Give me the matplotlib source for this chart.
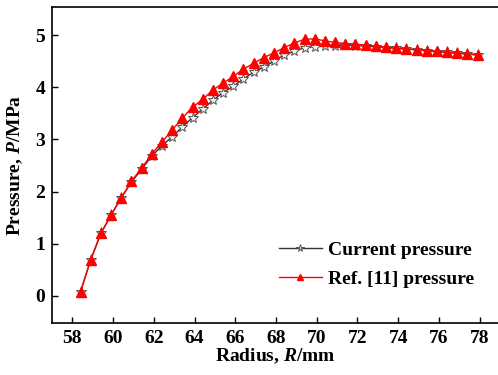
import matplotlib
matplotlib.use("Agg")
import matplotlib.pyplot as plt
import numpy as np

plt.rcParams['font.family'] = ['Liberation Serif', 'DejaVu Serif']
plt.rcParams['font.weight'] = 'bold'
plt.rcParams['mathtext.fontset'] = 'custom'
plt.rcParams['mathtext.it'] = 'Liberation Serif:italic:bold'
plt.rcParams['mathtext.rm'] = 'Liberation Serif:bold'

radius = np.round(58.4 + 0.5 * np.arange(40), 2)
current = [0.08, 0.69, 1.20, 1.55, 1.88, 2.18, 2.43, 2.68, 2.88, 3.05,
           3.24, 3.42, 3.58, 3.75, 3.90, 4.02, 4.16, 4.29, 4.39, 4.50,
           4.62, 4.69, 4.76, 4.78, 4.79, 4.80, 4.81, 4.80, 4.79, 4.78,
           4.76, 4.75, 4.73, 4.72, 4.70, 4.68, 4.67, 4.65, 4.64, 4.62]
ref11 = [0.08, 0.69, 1.20, 1.55, 1.88, 2.20, 2.45, 2.72, 2.95, 3.18,
         3.41, 3.62, 3.77, 3.95, 4.08, 4.21, 4.35, 4.46, 4.57, 4.66,
         4.76, 4.85, 4.92, 4.93, 4.89, 4.86, 4.84, 4.83, 4.81, 4.79,
         4.77, 4.75, 4.74, 4.72, 4.70, 4.69, 4.67, 4.66, 4.64, 4.62]
x_ticks = [58, 60, 62, 64, 66, 68, 70, 72, 74, 76, 78]
y_ticks = [0, 1, 2, 3, 4, 5]

fig = plt.figure(figsize=(4.98, 3.75), dpi=100)
ax = fig.add_axes([52/498, 52/375, 1 - 52/498, 316/375])

ax.plot(radius, current, color="#333333", linewidth=1, marker="*",
        markersize=8, markerfacecolor="#f0f0f0", markeredgecolor="#555555",
        markeredgewidth=0.7, label="Current pressure")
ax.plot(radius, ref11, color="red", linewidth=1, marker="^",
        markersize=7, markerfacecolor="red", markeredgecolor="red",
        label="Ref. [11] pressure")

ax.set_xlim(57, 78.9)
ax.set_ylim(-0.52, 5.54)
ax.set_xticks(x_ticks)
ax.set_yticks(y_ticks)
ax.tick_params(direction="in", labelsize=14, width=1, length=4, pad=5)
for lab in ax.get_xticklabels() + ax.get_yticklabels():
    lab.set_fontweight("bold")
ax.spines['right'].set_visible(False)
for s in ['left', 'bottom', 'top']:
    ax.spines[s].set_linewidth(1.2)

ax.set_xlabel("Radius, $R$/mm", fontsize=14, fontweight="bold", labelpad=0)
ax.set_ylabel("Pressure, $P$/MPa", fontsize=14, fontweight="bold", labelpad=7)

leg = ax.legend(loc="lower right", bbox_to_anchor=(0.985, 0.055), frameon=False,
                prop={'weight': 'bold', 'size': 14}, handlelength=2.2,
                handletextpad=0.3, labelspacing=0.6, markerscale=0.7)

fig.savefig("out.png", dpi=100)
